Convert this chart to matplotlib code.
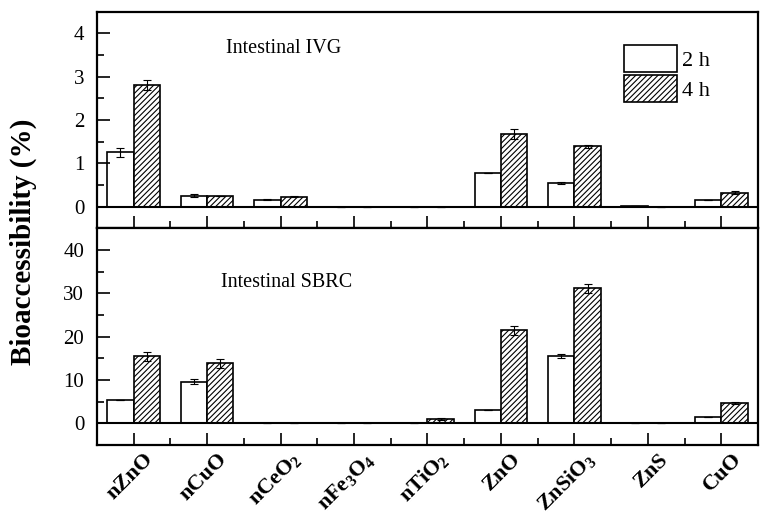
import numpy as np
import matplotlib
matplotlib.use('Agg')
import matplotlib.pyplot as plt
import matplotlib.transforms as mtrans
from matplotlib.ticker import MultipleLocator

plt.rcParams['font.family'] = 'Liberation Serif'
plt.rcParams['mathtext.fontset'] = 'custom'
plt.rcParams['mathtext.rm'] = 'Liberation Serif'
plt.rcParams['mathtext.bf'] = 'Liberation Serif:bold'
plt.rcParams['hatch.linewidth'] = 0.8

# categories
materials = ['nZnO', 'nCuO', r'nCeO$_\mathbf{2}$', r'nFe$_\mathbf{3}$O$_\mathbf{4}$',
             r'nTiO$_\mathbf{2}$', 'ZnO', r'ZnSiO$_\mathbf{3}$', 'ZnS', 'CuO']

# Intestinal IVG (%)
ivg_2h = [1.25, 0.25, 0.16, 0.0, 0.0, 0.77, 0.54, 0.02, 0.16]
ivg_2h_err = [0.10, 0.03, 0.02, 0.0, 0.0, 0.0, 0.03, 0.0, 0.0]
ivg_4h = [2.81, 0.25, 0.23, 0.0, 0.0, 1.68, 1.39, 0.0, 0.32]
ivg_4h_err = [0.12, 0.0, 0.02, 0.0, 0.0, 0.12, 0.04, 0.0, 0.04]

# Intestinal SBRC (%)
sbrc_2h = [5.3, 9.6, 0.0, 0.0, 0.1, 3.0, 15.5, 0.0, 1.45]
sbrc_2h_err = [0.0, 0.5, 0.0, 0.0, 0.0, 0.0, 0.5, 0.0, 0.0]
sbrc_4h = [15.4, 13.8, 0.0, 0.0, 1.0, 21.4, 31.1, 0.0, 4.7]
sbrc_4h_err = [1.0, 1.0, 0.0, 0.0, 0.2, 1.1, 1.0, 0.0, 0.2]

x = np.arange(len(materials))
w = 0.36

fig = plt.figure(figsize=(7.62, 5.15), dpi=100)
ax1 = fig.add_axes([0.127, 0.557, 0.868, 0.420])
ax2 = fig.add_axes([0.127, 0.136, 0.868, 0.421])

def panel(ax, v2, e2, v4, e4, ylim, major, minor, title, tpos):
    ax.bar(x - w/2, v2, w, color='white', edgecolor='black', linewidth=1.2, label='2 h')
    ax.bar(x + w/2, v4, w, color='white', edgecolor='black', linewidth=1.2,
           hatch='//////', label='4 h')
    ax.errorbar(x - w/2, v2, yerr=e2, fmt='none', ecolor='black', elinewidth=0.8,
                capsize=3, capthick=0.8)
    ax.errorbar(x + w/2, v4, yerr=e4, fmt='none', ecolor='black', elinewidth=0.8,
                capsize=3, capthick=0.8)
    ax.axhline(0, color='black', linewidth=1.5)
    ax.set_xlim(-0.5, len(materials) - 0.5)
    ax.set_ylim(*ylim)
    ax.yaxis.set_major_locator(MultipleLocator(major))
    ax.yaxis.set_minor_locator(MultipleLocator(minor))
    ax.set_xticks(x)
    ax.set_xticks(x[:-1] + 0.5, minor=True)
    ax.tick_params(axis='both', which='major', direction='in', length=9, width=1.2,
                   labelsize=15, top=False, right=False)
    ax.tick_params(axis='y', which='major', pad=9)
    ax.tick_params(axis='both', which='minor', direction='in', length=5, width=1.2,
                   top=False, right=False)
    for s in ax.spines.values():
        s.set_linewidth(1.6)
    ax.text(tpos[0], tpos[1], title, transform=ax.transAxes, fontsize=14.5)

panel(ax1, ivg_2h, ivg_2h_err, ivg_4h, ivg_4h_err, (-0.5, 4.5), 1, 0.5,
      'Intestinal IVG', (0.195, 0.81))
panel(ax2, sbrc_2h, sbrc_2h_err, sbrc_4h, sbrc_4h_err, (-5, 45), 10, 5,
      'Intestinal SBRC', (0.188, 0.73))

ax1.set_xticklabels([])
ax2.set_xticklabels(materials, rotation=45, ha='right', rotation_mode='anchor',
                    fontsize=16, fontweight='bold')
ax2.tick_params(axis='x', which='major', pad=3)
shift = mtrans.ScaledTranslation(10/100, 0, fig.dpi_scale_trans)
for lab in ax2.get_xticklabels():
    lab.set_transform(lab.get_transform() + shift)

ax1.legend(loc='upper right', bbox_to_anchor=(0.95, 0.92), frameon=False,
           fontsize=16, handlelength=2.4, handleheight=1.5, handletextpad=0.2,
           labelspacing=0.15, borderpad=0.2)

fig.text(0.03, 0.53, 'Bioaccessibility (%)', rotation=90, ha='center', va='center',
         fontsize=21, fontweight='bold')

fig.savefig('out.png', dpi=100)
